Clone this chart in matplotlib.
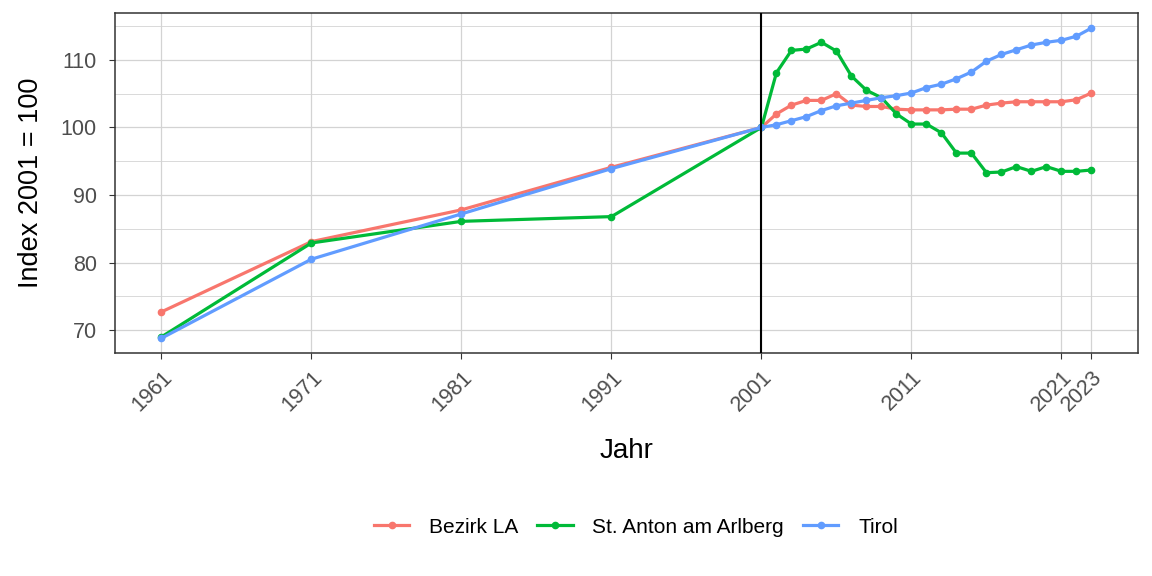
import matplotlib.pyplot as plt
import numpy as np

plt.rcParams['font.family'] = ['Liberation Sans', 'DejaVu Sans']

years = [1961, 1971, 1981, 1991] + list(range(2001, 2024))

bezirk_la = [72.7, 83.1, 87.8, 94.1,
             100.0, 102.0, 103.3, 104.0, 104.0, 105.0, 103.3, 103.1, 103.1, 102.7,
             102.6, 102.6, 102.6, 102.7, 102.7, 103.3, 103.6, 103.8, 103.8, 103.8,
             103.8, 104.1, 105.1]
st_anton = [69.0, 82.9, 86.1, 86.8,
            100.0, 108.1, 111.4, 111.6, 112.6, 111.3, 107.6, 105.5, 104.4, 102.0,
            100.5, 100.5, 99.2, 96.2, 96.2, 93.3, 93.4, 94.2, 93.5, 94.2,
            93.5, 93.5, 93.7]
tirol = [68.8, 80.5, 87.2, 93.9,
         100.0, 100.4, 101.0, 101.6, 102.5, 103.2, 103.6, 104.0, 104.4, 104.7,
         105.1, 105.9, 106.4, 107.2, 108.2, 109.8, 110.8, 111.5, 112.2, 112.6,
         112.9, 113.5, 114.7]

series = [("Bezirk LA", bezirk_la, "#F8766D"),
          ("St. Anton am Arlberg", st_anton, "#00BA38"),
          ("Tirol", tirol, "#619CFF")]

x_ticks = [1961, 1971, 1981, 1991, 2001, 2011, 2021, 2023]

fig = plt.figure(figsize=(11.52, 5.76), dpi=100)
ax = fig.add_axes([0.0998, 0.387, 0.888, 0.590])

for name, vals, col in series:
    ax.plot(years, vals, color=col, linewidth=2.3, marker='o', markersize=4.5,
            label=name, zorder=3)

ax.axvline(2001, color='black', linewidth=1.5, zorder=4)

ax.set_xlim(1957.9, 2026.1)
ax.set_ylim(66.6, 116.9)
ax.set_xticks(x_ticks)
ax.set_xticklabels([str(t) for t in x_ticks], rotation=45, ha='right',
                   rotation_mode='anchor', fontsize=15.5, color='#4D4D4D')
ax.set_yticks([70, 80, 90, 100, 110])
ax.set_yticks([75, 85, 95, 105, 115], minor=True)
ax.tick_params(axis='y', labelsize=15.5, labelcolor='#4D4D4D', pad=9)
ax.tick_params(axis='x', pad=6)
ax.tick_params(which='both', color='#333333', length=4)
ax.tick_params(which='minor', length=0)

ax.grid(True, which='major', color='#D3D3D3', linewidth=0.9)
ax.grid(True, which='minor', axis='y', color='#D3D3D3', linewidth=0.6)
ax.set_axisbelow(True)
for sp in ax.spines.values():
    sp.set_color('#333333')
    sp.set_linewidth(1.1)

ax.set_xlabel("Jahr", fontsize=20, labelpad=16)
ax.set_ylabel("Index 2001 = 100", fontsize=19.5, labelpad=12)

fig.legend(loc='center', bbox_to_anchor=(0.552, 0.085), ncol=3, frameon=False,
           fontsize=15, handlelength=1.7, columnspacing=0.9, handletextpad=0.95)

fig.savefig("out.png", dpi=100)
